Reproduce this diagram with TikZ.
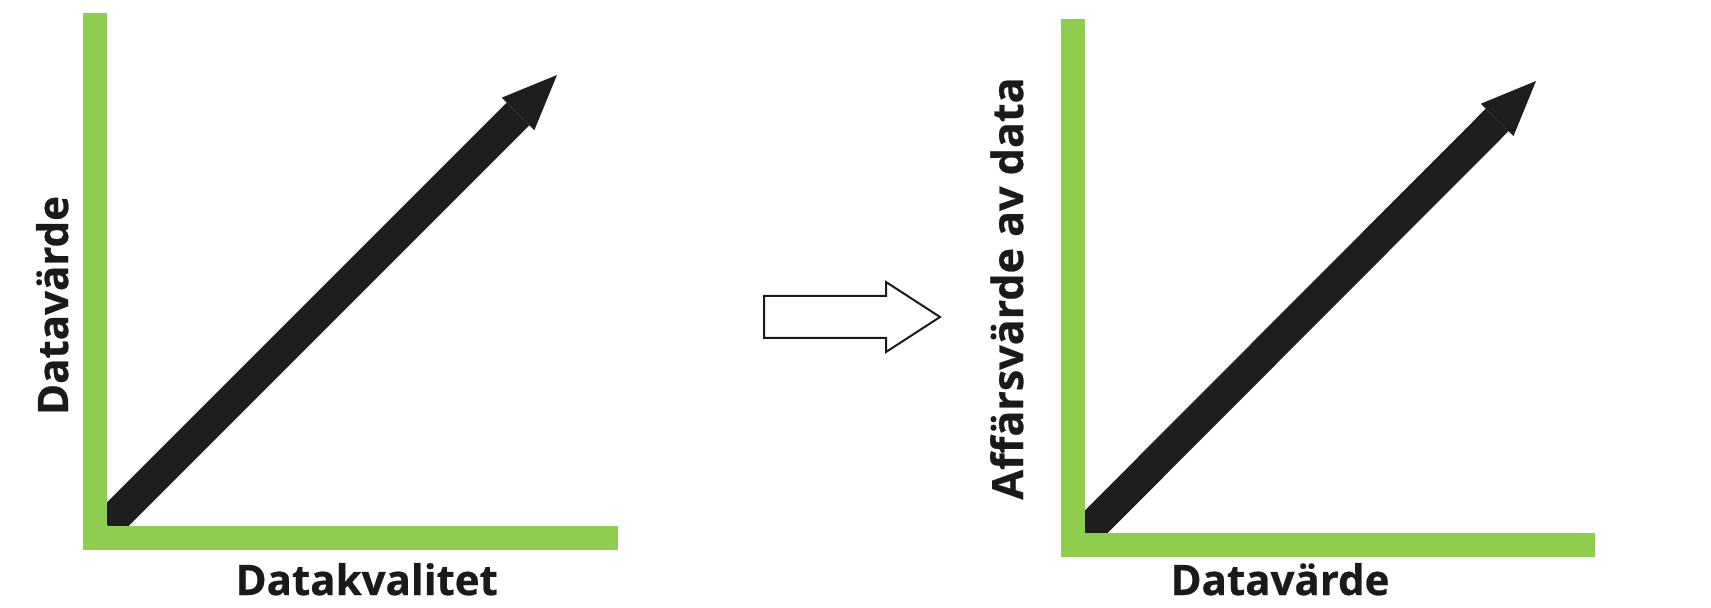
\documentclass[tikz,border=0pt]{standalone}
\usepackage{fontspec}
\setmainfont{Open Sans}[BoldFeatures={FakeBold=0.6}]
\usepackage{xcolor}
\usetikzlibrary{arrows.meta,calc}

\definecolor{axisgreen}{HTML}{8FCD50}
\definecolor{trendblack}{HTML}{1E1E1E}
\definecolor{labelblack}{HTML}{1A1A1A}

\tikzset{
  axisbar/.style={line width=12pt,axisgreen,line join=miter},
  trendarrow/.style={line width=16pt,trendblack,-{Triangle[length=27.5pt,width=23pt,line width=0pt]}},
  axislabel/.style={font=\bfseries\fontsize{21}{25}\selectfont,text=labelblack,inner sep=0pt},
}

\begin{document}
\begin{tikzpicture}[x=0.5pt,y=-0.5pt]
        \useasboundingbox (0,0) rectangle (1711,608);

        % left chart
        \coordinate (o1) at (107,525);
        \coordinate (t1) at (557,75);
        \coordinate (ytop1) at (95,13);
        \coordinate (c1) at (95,538);
        \coordinate (xend1) at (618,538);
        \draw[trendarrow] (o1)--(t1);
        \draw[axisbar] (ytop1)--(c1)--(xend1);
        \node[axislabel,rotate=90,anchor=base] (ylab1) at (68,305.5) {Datavärde};
        \node[axislabel,anchor=base] (xlab1) at (366.7,595) {Datakvalitet};

        % hollow arrow in between
        \draw[line width=1pt,labelblack,fill=white] (764,296)--(886,296)--(886,282)--(940,317)--(886,352)--(886,338)--(764,338)--cycle;

        % right chart
        \coordinate (o2) at (1085,533);
        \coordinate (t2) at (1536,81);
        \coordinate (ytop2) at (1073,19.5);
        \coordinate (c2) at (1073,545);
        \coordinate (xend2) at (1595,545);
        \draw[trendarrow] (o2)--(t2);
        \draw[axisbar] (ytop2)--(c2)--(xend2);
        \node[axislabel,font=\bfseries\fontsize{21.5}{25}\selectfont,rotate=90,anchor=base] (ylab2) at (1023,288.5) {Affärsvärde av data};
        \node[axislabel,anchor=base] (xlab2) at (1280,595) {Datavärde};

      \end{tikzpicture}
\end{document}
